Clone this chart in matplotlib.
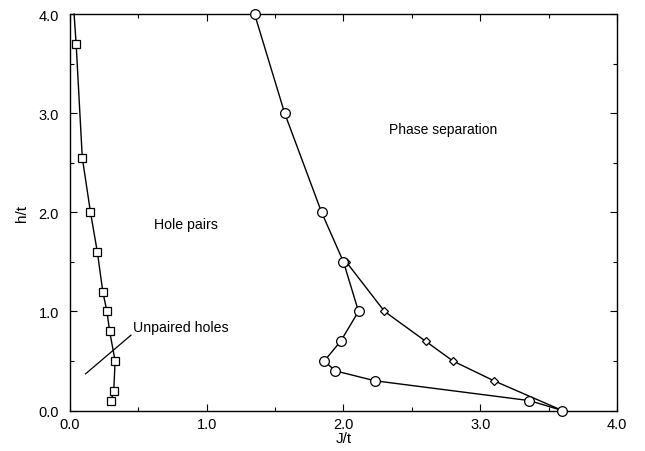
import matplotlib
matplotlib.use("Agg")
import matplotlib.pyplot as plt
from matplotlib.ticker import MultipleLocator, FormatStrFormatter

plt.rcParams['font.family'] = ['Liberation Sans', 'DejaVu Sans']

# unpaired holes / hole pairs boundary (squares)
sq_J = [0.03, 0.045, 0.09, 0.15, 0.20, 0.24, 0.27, 0.29, 0.33, 0.32, 0.30]
sq_h = [4.0, 3.7, 2.55, 2.0, 1.6, 1.2, 1.0, 0.8, 0.5, 0.2, 0.1]

# phase separation boundary (circles)
ci_J = [1.35, 1.57, 1.84, 2.0, 2.11, 1.98, 1.86, 1.94, 2.23, 3.36, 3.6]
ci_h = [4.0, 3.0, 2.0, 1.5, 1.0, 0.7, 0.5, 0.4, 0.3, 0.1, 0.0]

# second branch (diamonds)
di_J = [2.02, 2.3, 2.6, 2.8, 3.1, 3.6]
di_h = [1.5, 1.0, 0.7, 0.5, 0.3, 0.0]

fig = plt.figure(figsize=(6.45, 4.52), dpi=100)
ax = fig.add_axes([0.1085, 0.0896, 0.848, 0.877])

ax.plot(sq_J, sq_h, color='black', lw=1.0, marker='s', ms=5.5, mfc='white',
        mec='black', mew=0.9, markevery=list(range(1, len(sq_J))), clip_on=False)
ax.plot(di_J, di_h, color='black', lw=1.0, marker='D', ms=4.5, mfc='white',
        mec='black', mew=0.9, clip_on=False)
ax.plot(ci_J, ci_h, color='black', lw=1.0, marker='o', ms=7, mfc='white',
        mec='black', mew=0.9, clip_on=False, zorder=3)

# pointer for the unpaired-holes region
ax.plot([0.114, 0.446], [0.37, 0.76], color='black', lw=0.9)
ax.text(0.46, 0.84, 'Unpaired holes', fontsize=10.2, va='center', ha='left')
ax.text(0.85, 1.88, 'Hole pairs', fontsize=10.2, va='center', ha='center')
ax.text(2.73, 2.84, 'Phase separation', fontsize=10, va='center', ha='center')

ax.set_xlim(0, 4)
ax.set_ylim(0, 4)
ax.xaxis.set_major_locator(MultipleLocator(1.0))
ax.xaxis.set_minor_locator(MultipleLocator(0.5))
ax.yaxis.set_major_locator(MultipleLocator(1.0))
ax.yaxis.set_minor_locator(MultipleLocator(0.5))
ax.xaxis.set_major_formatter(FormatStrFormatter('%.1f'))
ax.yaxis.set_major_formatter(FormatStrFormatter('%.1f'))
ax.tick_params(which='both', direction='in', top=True, right=True, labelsize=10.5)
ax.tick_params(which='major', length=5, width=0.8)
ax.tick_params(which='minor', length=3, width=0.8)
ax.tick_params(axis='y', which='major', pad=8)
ax.tick_params(axis='x', which='major', pad=5)
ax.set_xlabel('J/t', fontsize=11, labelpad=0)
ax.set_ylabel('h/t', fontsize=11, labelpad=7)
for s in ax.spines.values():
    s.set_linewidth(1.0)

fig.savefig('out.png', dpi=100)
